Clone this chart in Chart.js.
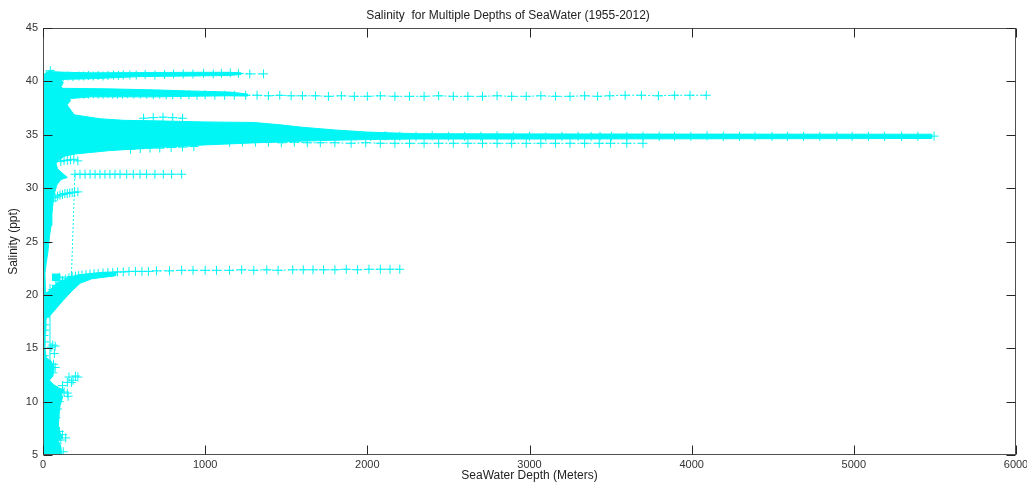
<!DOCTYPE html>
<html><head><meta charset="utf-8">
<script src="https://cdn.jsdelivr.net/npm/chart.js@4.4.0/dist/chart.umd.min.js"></script>
<style>html,body{margin:0;padding:0;background:#fff;}#wrap{width:1027px;height:483px;position:relative;}</style>
</head><body><div id="wrap"><canvas id="c"></canvas></div>
<script>
// ---------- tick labels ----------
const xTickValues = [0,1000,2000,3000,4000,5000,6000];
const yTickValues = [5,10,15,20,25,30,35,40,45];

// ---------- dense regions (envelopes of overlapping observations) ----------
const columnDepth = [0,115,110,95,120,105,95,100,105,115,120,115,130,95,65,40,60,70,50,20,12,14,18,25,15,12,20,30,40,50,55,62,70,85,110,150,120,90,80,100,130,170,200,148,170,140,110,125,100,70,45,25,0];
const columnSal   = [5,5,5.8,6.3,6.6,7.1,7.8,8.8,9.6,10.1,10.4,10.7,11.1,11.3,11.6,12,12.4,13.2,13.8,14.1,15,16.5,17.5,18.5,20.5,22,23,24,25.5,26.5,27.5,28.7,29.5,30.3,30.8,31.0,31.4,31.8,32.3,32.6,33.0,33.5,36.7,37.8,38.2,39.2,39.45,39.9,40.35,40.7,41.05,40.85,40.6];

const band40PolyDepth = [60,150,300,600,900,1150,1220,1220,1150,900,600,300,150,60];
const band40PolySal   = [40.9,40.85,40.8,40.82,40.85,40.85,40.8,40.65,40.55,40.5,40.45,40.25,40.2,40.1];

const band387PolyDepth = [120,400,700,900,1150,1260,1260,1150,900,700,300,170,120];
const band387PolySal   = [39.35,39.3,39.2,39.1,39.0,38.82,38.62,38.65,38.6,38.55,38.55,38.4,38.6];

const band35PolyDepth = [60,100,200,350,500,700,1000,1300,1450,1600,1800,2000,2300,3000,4000,5480,5480,4000,3000,2300,2000,1700,1400,1000,700,400,200,100,60];
const band35PolySal   = [37.5,37.3,36.85,36.5,36.35,36.3,36.2,36.15,35.95,35.7,35.45,35.25,35.1,35.08,35.06,35.05,34.65,34.62,34.6,34.6,34.55,34.45,34.3,34.05,33.8,33.5,33.2,32.9,32.5];

const band22PolyDepth = [5,40,80,125,180,230,300,450,450,350,210,150,85,40,5];
const band22PolySal   = [17.7,18,18.7,19.5,20.4,21.1,21.5,21.8,22.15,22.1,21.85,21.5,21.1,20.4,20];

const square21Depth = [55,105,105,55];
const square21Sal   = [21.35,21.35,21.95,21.95];

// ---------- marker tracks ('+' with dashed connecting line) ----------
const band40Depth = [20,45,60,80,100,125,155,185,220,250,280,310,340,370,400,435,465,495,535,575,630,690,750,805,865,925,990,1050,1100,1155,1205,1275,1360];
const band40Sal   = [40.6,41.0,40.7,40.5,40.45,40.45,40.5,40.45,40.5,40.5,40.55,40.5,40.55,40.5,40.55,40.6,40.55,40.6,40.6,40.6,40.65,40.6,40.65,40.7,40.7,40.7,40.75,40.7,40.75,40.8,40.75,40.7,40.7];

const band387Depth = [110,130,150,175,200,225,250,280,310,340,370,400,430,460,490,520,560,600,640,680,720,760,800,850,900,950,1000,1060,1120,1180,1250,1320,1390,1460,1530,1600,1680,1760,1840,1920,2000,2080,2170,2260,2350,2440,2530,2620,2710,2800,2890,2980,3070,3160,3250,3340,3420,3495,3590,3690,3795,3895,3990,4090];
const band387Sal   = [38.95,38.9,38.85,38.85,38.8,38.85,38.8,38.8,38.85,38.8,38.8,38.85,38.8,38.8,38.8,38.85,38.8,38.8,38.8,38.75,38.8,38.75,38.75,38.75,38.75,38.7,38.75,38.7,38.7,38.7,38.7,38.7,38.65,38.7,38.65,38.65,38.65,38.6,38.65,38.6,38.6,38.65,38.6,38.6,38.6,38.65,38.6,38.6,38.6,38.65,38.6,38.6,38.65,38.6,38.6,38.65,38.6,38.65,38.7,38.7,38.65,38.7,38.7,38.7];

const band35Depth = [1300,1390,1480,1570,1660,1750,1840,1930,2020,2110,2200,2300,2400,2500,2600,2700,2800,2900,3000,3100,3200,3300,3380,3435,3505,3600,3700,3800,3895,3995,4095,4195,4295,4390,4495,4590,4690,4790,4895,4990,5090,5190,5295,5395,5495];
const band35Sal   = [35.0,35.0,34.95,34.95,34.9,34.9,34.9,34.9,34.85,34.9,34.85,34.85,34.9,34.85,34.85,34.85,34.9,34.85,34.85,34.8,34.85,34.85,34.85,34.85,34.85,34.85,34.85,34.85,34.85,34.85,34.9,34.85,34.85,34.85,34.85,34.85,34.85,34.85,34.85,34.85,34.85,34.85,34.85,34.85,34.87];

const band342Depth = [1150,1230,1310,1390,1470,1550,1630,1710,1800,1900,1990,2080,2170,2260,2350,2440,2530,2620,2710,2800,2890,2980,3070,3160,3250,3340,3430,3500,3600,3700];
const band342Sal   = [34.3,34.3,34.3,34.3,34.25,34.3,34.25,34.25,34.25,34.2,34.25,34.2,34.2,34.2,34.2,34.2,34.2,34.2,34.2,34.2,34.2,34.2,34.2,34.2,34.2,34.2,34.2,34.2,34.2,34.2];

const band338Depth = [540,600,660,720,790,860,930];
const band338Sal   = [33.65,33.7,33.75,33.75,33.8,33.85,33.9];

const band366Depth = [620,680,740,800,860];
const band366Sal   = [36.55,36.6,36.65,36.6,36.55];

const band326Depth = [110,130,150,170,190,215];
const band326Sal   = [32.5,32.6,32.6,32.65,32.7,32.55];

const band313Depth = [100,175,197,228,259,290,321,351,382,413,444,475,516,557,598,639,690,742,793,855];
const band313Sal   = [21.65,21.7,31.3,31.3,31.3,31.3,31.3,31.3,31.3,31.3,31.3,31.3,31.3,31.3,31.3,31.3,31.3,31.3,31.3,31.3];

const band296Depth = [60,75,90,105,120,135,150,165,180,195,215];
const band296Sal   = [28.8,29.1,29.25,29.35,29.4,29.5,29.5,29.55,29.6,29.6,29.65];

const band22Depth = [60,80,100,120,140,160,180,200,220,240,265,290,315,340,370,400,430,460,495,530,570,610,650,700,780,855,925,1000,1070,1150,1225,1300,1380,1450,1540,1605,1665,1730,1800,1870,1940,2010,2080,2140,2200];
const band22Sal   = [20.5,20.9,21.2,21.35,21.5,21.6,21.7,21.75,21.8,21.85,21.9,21.95,22.0,22.0,22.05,22.1,22.1,22.15,22.15,22.2,22.2,22.2,22.2,22.25,22.25,22.3,22.3,22.3,22.3,22.3,22.35,22.3,22.35,22.3,22.35,22.35,22.35,22.35,22.35,22.4,22.35,22.4,22.4,22.4,22.4];

const shallowDepth = [8,10,6,12,9,14,10,8,12,60,75,70,50,65,60,75,160,200,215,185,150,120,175,90,150,155,130,100,80,90,110,140,120,100,125];
const shallowSal   = [14.3,15.6,16.2,16.7,17.2,17.9,18.6,19.4,20.2,15.3,15.2,14.5,15.1,13.5,12.7,13.2,12.3,12.4,12.3,12.0,11.8,11.5,11.8,11.0,10.8,10.5,10.9,10.0,8.5,9.3,6.4,6.6,6.9,7.2,5.3];

const innerLineDepth = [43,43];
const innerLineSal   = [13.5,21];

// ---------- build ----------
const CYAN = '#00F5F5';
const FONT = '"Liberation Sans", Arial, sans-serif';
const pts = (d,s) => d.map((v,i)=>({x:v,y:s[i]}));
const poly = (d,s) => ({data:pts(d,s), showLine:true, fill:'shape', backgroundColor:CYAN, borderColor:CYAN, borderWidth:1, pointRadius:0, tension:0});
const track = (d,s,dash=true) => ({data:pts(d,s), showLine:true, fill:false, borderColor:CYAN, borderWidth:1, borderDash: dash?[2,2]:[], pointStyle:'cross', pointRadius:4.5, pointBorderWidth:1, pointBorderColor:CYAN, pointBackgroundColor:CYAN, tension:0});
const scatterOnly = (d,s) => ({data:pts(d,s), showLine:false, pointStyle:'cross', pointRadius:4.5, pointBorderWidth:1, pointBorderColor:CYAN, pointBackgroundColor:CYAN});
const plain = (d,s) => ({data:pts(d,s), showLine:true, fill:false, borderColor:CYAN, borderWidth:1, pointRadius:0});

const datasets = [
  poly(columnDepth,columnSal),
  poly(band40PolyDepth,band40PolySal),
  poly(band387PolyDepth,band387PolySal),
  poly(band35PolyDepth,band35PolySal),
  poly(band22PolyDepth,band22PolySal),
  poly(square21Depth,square21Sal),
  track(band40Depth,band40Sal),
  track(band387Depth,band387Sal),
  track(band35Depth,band35Sal),
  track(band342Depth,band342Sal),
  track(band338Depth,band338Sal),
  track(band366Depth,band366Sal),
  track(band326Depth,band326Sal),
  track(band313Depth,band313Sal),
  track(band296Depth,band296Sal),
  track(band22Depth,band22Sal),
  scatterOnly(shallowDepth,shallowSal),
  plain(innerLineDepth,innerLineSal)
];

const axisBox = {
  id:'axisBox',
  afterDatasetsDraw(chart){
    const {ctx, chartArea:a, scales} = chart;
    const L=Math.round(a.left)+0.5, R=Math.round(a.right)-0.5, T=Math.round(a.top)+0.5, B=Math.round(a.bottom)-0.5;
    ctx.save();
    ctx.strokeStyle='#505050'; ctx.lineWidth=1;
    ctx.strokeRect(L,T,R-L,B-T);
    ctx.strokeStyle='#262626';
    ctx.beginPath();
    scales.x.ticks.forEach(t=>{const px=Math.round(scales.x.getPixelForValue(t.value))+0.5; ctx.moveTo(px,B); ctx.lineTo(px,B-9); ctx.moveTo(px,T); ctx.lineTo(px,T+9);});
    scales.y.ticks.forEach(t=>{const py=Math.round(scales.y.getPixelForValue(t.value))+0.5; ctx.moveTo(L,py); ctx.lineTo(L+9,py); ctx.moveTo(R,py); ctx.lineTo(R-9,py);});
    ctx.stroke(); ctx.restore();
  }
};

new Chart(document.getElementById('c'), {
  type:'scatter',
  data:{datasets},
  options:{
    responsive:true, maintainAspectRatio:false, animation:false,
    layout:{padding:{top:0,left:0,right:11,bottom:0}},
    plugins:{
      legend:{display:false}, tooltip:{enabled:false},
      title:{display:true, text:'Salinity  for Multiple Depths of SeaWater (1955-2012)', color:'#222', font:{family:FONT,size:12,weight:'normal',lineHeight:1.2}, padding:{top:8,bottom:5.6}}
    },
    scales:{
      x:{type:'linear', min:0, max:6000,
        afterBuildTicks:s=>{s.ticks = xTickValues.map(v=>({value:v}));},
        ticks:{font:{family:FONT,size:11}, color:'#333', padding:3, maxRotation:0, autoSkip:false, callback:v=>String(v)},
        grid:{display:false, drawTicks:false}, border:{display:false},
        title:{display:true, text:'SeaWater Depth (Meters)', color:'#222', font:{family:FONT,size:12,lineHeight:1.2}, padding:{top:0,bottom:0}},
        afterFit:s=>{s.height=28; s.paddingLeft=0; s.paddingRight=0;}
      },
      y:{type:'linear', min:5, max:45,
        afterBuildTicks:s=>{s.ticks = yTickValues.map(v=>({value:v}));},
        ticks:{font:{family:FONT,size:11}, color:'#333', padding:5, autoSkip:false, callback:v=>String(v)},
        grid:{display:false, drawTicks:false}, border:{display:false},
        title:{display:true, text:'Salinity (ppt)', color:'#222', font:{family:FONT,size:12,lineHeight:1.2}, padding:{top:6,bottom:0}},
        afterFit:s=>{s.width=43; s.paddingTop=0; s.paddingBottom=0;}
      }
    }
  },
  plugins:[axisBox]
});
</script></body></html>
